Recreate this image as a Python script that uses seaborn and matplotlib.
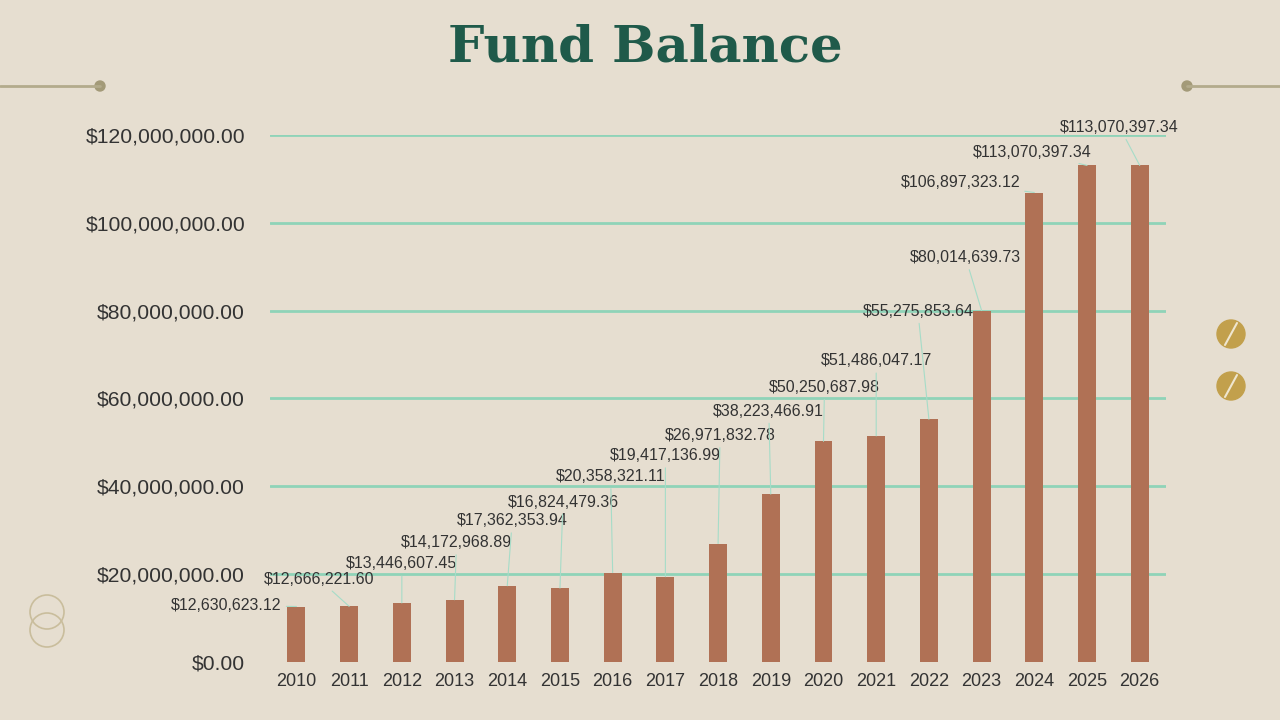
import matplotlib
matplotlib.use("Agg")
import matplotlib.pyplot as plt
import seaborn as sns
import pandas as pd
from matplotlib.patches import Circle
from matplotlib.lines import Line2D

# Fund balance by year
years = [str(y) for y in range(2010, 2027)]
balance = [12630623.12, 12666221.60, 13446607.45, 14172968.89, 17362353.94,
           16824479.36, 20358321.11, 19417136.99, 26971832.78, 38223466.91,
           50250687.98, 51486047.17, 55275853.64, 80014639.73, 106897323.12,
           113070397.34, 113070397.34]
y_ticks = [0, 20e6, 40e6, 60e6, 80e6, 100e6, 120e6]

# label offsets (pixels) from bar top
label_dx = [-70, -30, 0, 2, 5, 3, -2, 0, 2, -2, 1, 0, -11, -16, -74, -55, -20]
label_dy = [1, 27, 39, 57, 65, 86, 96, 121, 108, 83, 54, 75, 108, 53, 10, 13, 38]

bg = "#e6ded0"
bar_col = "#b07155"
grid_col = "#8fd3b8"
text_col = "#333333"

df = pd.DataFrame({"year": years, "balance": balance})

sns.set_theme(style="white")
plt.rcParams['font.family'] = ['Liberation Sans', 'DejaVu Sans']

fig = plt.figure(figsize=(12.8, 7.2), dpi=100, facecolor=bg)
ax = fig.add_axes([0.211, 0.0806, 0.700, 0.7319])
ax.set_facecolor(bg)

sns.barplot(data=df, x="year", y="balance", color=bar_col, width=0.34,
            saturation=1, linewidth=0, ax=ax, zorder=3)

ax.set_xlim(-0.5, len(years) - 0.5)
ax.set_ylim(0, 120e6)
ax.set_yticks(y_ticks)
ax.set_yticklabels([f"${v:,.2f}" for v in y_ticks], fontsize=15.2, color=text_col)
ax.tick_params(axis="x", labelsize=13, colors=text_col, length=0, pad=8)
ax.tick_params(axis="y", length=0, pad=18)
for t in y_ticks[1:]:
    ax.axhline(t, color=grid_col, lw=2, zorder=1)
ax.set_xlabel("")
ax.set_ylabel("")
for s in ax.spines.values():
    s.set_visible(False)

for i, v in enumerate(balance):
    ax.annotate(f"${v:,.2f}", xy=(i, v), xytext=(label_dx[i], label_dy[i]),
                textcoords="offset pixels", ha="center", va="center",
                fontsize=11.5, color=text_col, annotation_clip=False, zorder=5,
                arrowprops=dict(arrowstyle="-", color="#a6dcc8", lw=0.8,
                                shrinkA=1, shrinkB=0))

fig.text(0.504, 0.933, "Fund Balance", ha="center", va="center",
         fontsize=37, fontweight="bold", color="#1f5a4a",
         family=["DejaVu Serif"])

# decorations
deco = "#b3ab8c"
fig.add_artist(Line2D([0, 100 / 1280], [1 - 86 / 720] * 2, color=deco, lw=2,
                      transform=fig.transFigure))
fig.add_artist(Line2D([1187 / 1280, 1], [1 - 86 / 720] * 2, color=deco, lw=2,
                      transform=fig.transFigure))
for px in (100, 1187):
    fig.add_artist(Circle((px, 720 - 86), 5, color="#a39a78",
                          transform=None))
for py in (334, 386):
    fig.add_artist(Circle((1231, 720 - py), 14, color="#c2a04c", transform=None))
    fig.add_artist(Line2D([1225, 1237], [720 - py - 11, 720 - py + 11],
                          color="#efe6cf", lw=1.5, transform=None))
for py in (612, 630):
    fig.add_artist(Circle((47, 720 - py), 17, fill=False, ec="#c9bd9c",
                          lw=1.2, transform=None))

fig.savefig("out.png", dpi=100, facecolor=bg)
